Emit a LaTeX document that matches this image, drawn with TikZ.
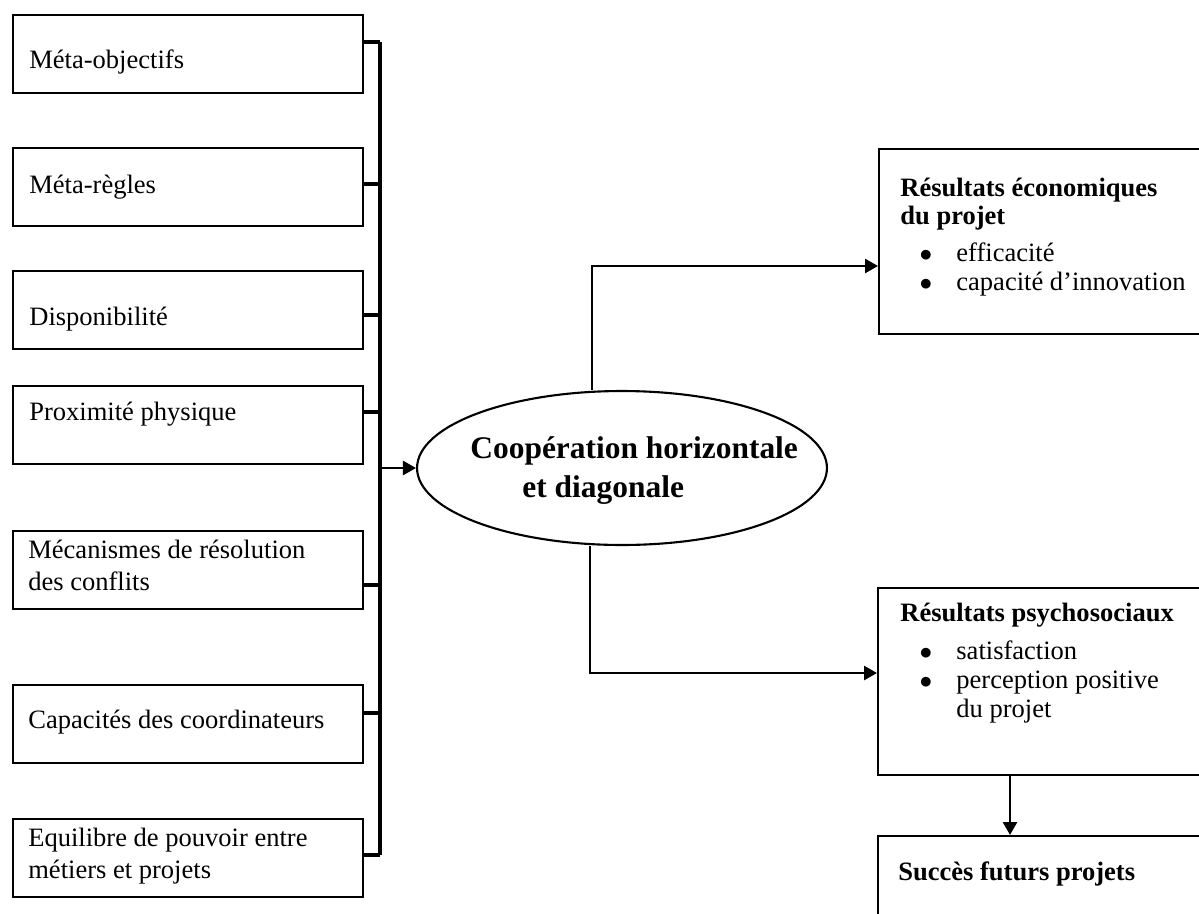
\documentclass[tikz,border=0pt]{standalone}
\usepackage{fontspec}
\setmainfont{Liberation Serif}
\usetikzlibrary{arrows.meta,shapes.geometric}
\newcommand{\puce}{\makebox[31.9pt][l]{\hspace*{11pt}$\bullet$}}
\newcommand{\retrait}{\hspace*{31.9pt}}

\begin{document}
\begin{tikzpicture}[x=0.02cm, y=-0.02cm,
	facteur/.style={draw, line width=1.4pt, anchor=north west, minimum width=7cm, minimum height=1.56cm, inner sep=0pt},
	libelle/.style={anchor=base west, align=left, inner sep=0pt, font={\fontsize{15.1}{18.2}\selectfont}},
	resultat/.style={draw, line width=1.4pt, anchor=north west, minimum width=6.8cm, inner sep=0pt},
	gras/.style={anchor=base west, align=left, inner sep=0pt, font={\fontsize{15.1}{16.5}\selectfont}},
	ovale/.style={draw, ellipse, line width=1.2pt, minimum width=8.2cm, minimum height=3.08cm, inner sep=0pt},
	bus/.style={line width=2.2pt},
	fleche/.style={line width=1.5pt, -{Triangle[length=0.26cm, width=0.28cm]}}]
		\useasboundingbox (0,0) rectangle (1199,913);
		\clip (0,0) rectangle (1199,913);

		% Facteurs de cooperation
		\node[facteur] (f1) at (12,14) {};
		\node[libelle] (t1) at (29,68) {Méta-objectifs};
		\node[facteur] (f2) at (12,147) {};
		\node[libelle] (t2) at (29,193) {Méta-règles};
		\node[facteur] (f3) at (12,270) {};
		\node[libelle] (t3) at (29,325) {Disponibilité};
		\node[facteur] (f4) at (12,385) {};
		\node[libelle] (t4) at (29,420) {Proximité physique};
		\node[facteur] (f5) at (12,530) {};
		\node[libelle] (t5) at (28,590) {Mécanismes de résolution\\des conflits};
		\node[facteur] (f6) at (12,684) {};
		\node[libelle] (t6) at (28,728) {Capacités des coordinateurs};
		\node[facteur] (f7) at (12,818) {};
		\node[libelle] (t7) at (28,878) {Equilibre de pouvoir entre\\métiers et projets};

		% Bus vertical
		\coordinate (b1) at (380,42);
		\coordinate (b2) at (380,184);
		\coordinate (b3) at (380,315);
		\coordinate (b4) at (380,412);
		\coordinate (b5) at (380,585);
		\coordinate (b6) at (380,713);
		\coordinate (b7) at (380,855);
		\draw[bus] (b1) -- (b7);
		\draw[bus] (f1.east |- b1) -- (b1);
		\draw[bus] (f2.east |- b2) -- (b2);
		\draw[bus] (f3.east |- b3) -- (b3);
		\draw[bus] (f4.east |- b4) -- (b4);
		\draw[bus] (f5.east |- b5) -- (b5);
		\draw[bus] (f6.east |- b6) -- (b6);
		\draw[bus] (f7.east |- b7) -- (b7);

		% Cooperation
		\node[ovale] (coop) at (622,468) {};
		\node[anchor=base west, align=left, inner sep=0pt, font={\bfseries\fontsize{17.9}{22.2}\selectfont}] (tc) at (470,497)
			{Coopération horizontale\\\hspace*{29.6pt}et diagonale};
		\draw[fleche] (b1 |- coop.west) -- (coop.west);

		% Resultats
		\node[resultat, minimum height=3.7cm] (r1) at (878,148) {};
		\node[gras] (e1) at (900,290)
			{\textbf{Résultats économiques}\\\textbf{du projet}\\[4pt]\puce efficacité\\\puce capacité d’innovation};
		\node[resultat, minimum height=3.74cm] (r2) at (877,587) {};
		\node[gras] (e2) at (900,717)
			{\textbf{Résultats psychosociaux}\\[4.6pt]\puce satisfaction\\\puce perception positive\\\retrait du projet};
		\node[resultat, minimum height=2cm] (r3) at (877,835) {};
		\node[gras] (e3) at (898,880) {\textbf{Succès futurs projets}};

		% Liens
		\coordinate (h1) at (592,266);
		\coordinate (h2) at (590,673);
		\coordinate (h3) at (1010,774);
		\draw[fleche] (coop.north -| h1) |- (r1.west |- h1);
		\draw[fleche] (coop.south -| h2) |- (r2.west |- h2);
		\draw[fleche] (r2.south -| h3) -- (r3.north -| h3);
	\end{tikzpicture}
\end{document}
